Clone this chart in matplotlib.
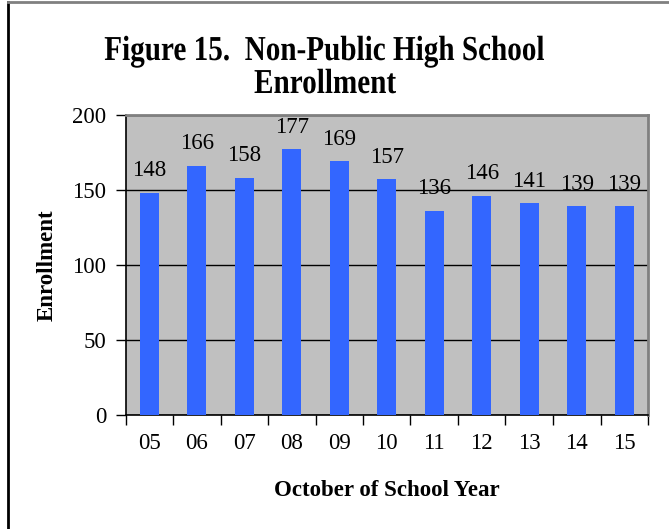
import matplotlib
matplotlib.use("Agg")
import matplotlib.pyplot as plt
from matplotlib.lines import Line2D
from matplotlib.transforms import Affine2D
from matplotlib import patheffects

years = ["05", "06", "07", "08", "09", "10", "11", "12", "13", "14", "15"]
enrollment = [148, 166, 158, 177, 169, 157, 136, 146, 141, 139, 139]
y_ticks = [0, 50, 100, 150, 200]

plt.rcParams["font.family"] = ["Liberation Serif", "DejaVu Serif"]


class TallGlyphs(patheffects.AbstractPathEffect):
    """Draw text glyphs stretched vertically about their baseline."""

    def __init__(self, sy):
        super().__init__()
        self.sy = sy

    def draw_path(self, renderer, gc, tpath, affine, rgbFace=None):
        renderer.draw_path(gc, tpath, Affine2D().scale(1, self.sy) + affine, rgbFace)


W, H = 669, 529
fig = plt.figure(figsize=(W / 100, H / 100), dpi=100)
fig.patch.set_facecolor("white")

ax = fig.add_axes([125.5 / W, 1 - 414.7 / H, (648 - 125.5) / W, (414.7 - 115) / H])
ax.set_facecolor("#C0C0C0")

x = list(range(len(years)))
ax.bar(x, enrollment, width=0.4, color="#3366FF", zorder=3)
ax.set_xlim(-0.5, len(years) - 0.5)
ax.set_ylim(0, 200)

for xi, v in zip(x, enrollment):
    ax.annotate(str(v), (xi, v), xytext=(0, 8.5), textcoords="offset points",
                ha="center", va="bottom", fontsize=16.5, zorder=4)

ax.set_yticks(y_ticks)
ax.set_yticklabels([str(t) for t in y_ticks], fontsize=16.5)
ax.yaxis.grid(True, color="black", linewidth=1.0, zorder=1)
ax.set_axisbelow(True)

# category separators as ticks on the x axis
ax.set_xticks([i - 0.5 for i in range(len(years) + 1)], minor=False)
ax.set_xticklabels([""] * (len(years) + 1))
ax.set_xticks(x, minor=True)
ax.set_xticklabels(years, minor=True, fontsize=16.5)
ax.tick_params(axis="x", which="minor", length=0, pad=13)
ax.tick_params(axis="x", which="major", length=7, width=1, color="black", direction="out")
ax.tick_params(axis="y", length=7, width=1, color="black", direction="out", pad=7)

for side in ["top", "right"]:
    ax.spines[side].set_color("#808080")
    ax.spines[side].set_linewidth(2)
for side in ["left", "bottom"]:
    ax.spines[side].set_color("black")
    ax.spines[side].set_linewidth(1.2)

ax.set_ylabel("Enrollment", fontsize=16.5, fontweight="bold", labelpad=10)
ax.set_xlabel("October of School Year", fontsize=16.5, fontweight="bold", labelpad=19)

tall = [TallGlyphs(1.2)]
fig.text(324 / W, 1 - 60 / H, "Figure 15.  Non-Public High School",
         ha="center", va="baseline", fontsize=21, fontweight="bold", path_effects=tall)
fig.text(325 / W, 1 - 93 / H, "Enrollment",
         ha="center", va="baseline", fontsize=21, fontweight="bold", path_effects=tall)

# chart frame
fig.add_artist(Line2D([8 / W, 8 / W], [0, 1 - 2 / H], color="black", linewidth=2,
                      transform=fig.transFigure))
fig.add_artist(Line2D([8 / W, 1], [1 - 2 / H, 1 - 2 / H], color="#808080", linewidth=2,
                      transform=fig.transFigure))

fig.savefig("out.png", dpi=100)
